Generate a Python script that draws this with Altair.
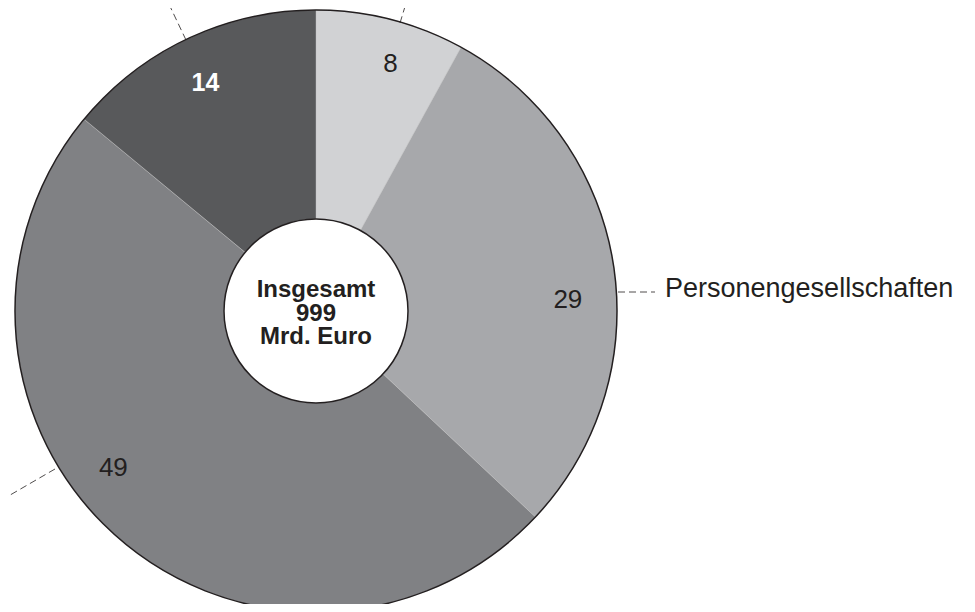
import math
import altair as alt
import pandas as pd

# ---- data ----
categories = ["Einzelunternehmen", "Personengesellschaften", "Kapitalgesellschaften", "Übrige"]
shares = [8, 29, 49, 14]
slice_colors = ["#d1d2d4", "#a7a8ab", "#808184", "#58595b"]
center_lines = ["Insgesamt", "999", "Mrd. Euro"]
side_labels = ["Einzelunternehmen", "Personengesellschaften"]

df = pd.DataFrame({"cat": categories, "value": shares, "idx": list(range(len(shares)))})

# ---- layout / style ----
CX, CY = 308, 303
R_OUT, R_IN = 301, 92
INK = "#231f20"
FONT = "Liberation Sans"
theta_scale = alt.Scale(domain=[0, sum(shares)], range=[0, 2 * math.pi])

stacked = (
    alt.Chart(df)
    .transform_stack(stack="value", groupby=[], as_=["v0", "v1"], sort=[alt.SortField("idx")])
    .transform_calculate(mid="(datum.v0 + datum.v1) / 2")
)

pie = stacked.mark_arc(outerRadius=R_OUT, innerRadius=R_IN, x=CX, y=CY,
                       stroke="#c8c8c8", strokeWidth=0.4).encode(
    theta=alt.Theta("v0:Q", scale=theta_scale),
    theta2="v1:Q",
    color=alt.Color("cat:N", scale=alt.Scale(domain=categories, range=slice_colors), legend=None),
)

one = alt.Data(values=[{}])

outer_ring = alt.Chart(one).mark_arc(
    outerRadius=R_OUT, innerRadius=0, x=CX, y=CY, fillOpacity=0, stroke=INK, strokeWidth=1.5
).encode(theta=alt.value(0), theta2=alt.value(2 * math.pi))

inner_disk = alt.Chart(one).mark_arc(
    outerRadius=R_IN, innerRadius=0, x=CX, y=CY, fill="white", stroke=INK, strokeWidth=1.5
).encode(theta=alt.value(0), theta2=alt.value(2 * math.pi))

# three centre lines, spaced 23.5 px apart, block centred near the hole's centre
center_text = [
    alt.Chart(one).mark_text(
        text=line, font=FONT, fontSize=24, fontWeight="bold",
        color=INK, align="center", baseline="middle"
    ).encode(x=alt.value(CX), y=alt.value(CY - 21 + k * 23.5))
    for k, line in enumerate(center_lines)
]

# per-slice label styling (offsets from slice mid-angle)
label_styles = [
    dict(dx=11, dy=0, color=INK, fontWeight="normal", fontSize=26),
    dict(dx=0, dy=29, color=INK, fontWeight="normal", fontSize=26),
    dict(dx=-34, dy=-34, color=INK, fontWeight="normal", fontSize=26),
    dict(dx=-2, dy=3, color="white", fontWeight="bold", fontSize=25),
]
labels = []
for i, st in enumerate(label_styles):
    labels.append(
        stacked.transform_filter(alt.datum.idx == i).mark_text(
            radius=255, x=CX, y=CY, font=FONT, align="center", baseline="middle", **st
        ).encode(theta=alt.Theta("mid:Q", scale=theta_scale), text=alt.Text("value:Q"))
    )


def leader(x1, y1, x2, y2):
    return alt.Chart(one).mark_rule(stroke=INK, strokeWidth=0.8, strokeDash=[7, 4]).encode(
        x=alt.value(x1), y=alt.value(y1), x2=alt.value(x2), y2=alt.value(y2)
    )


leaders = [
    leader(178, 32, 159, -8),
    leader(392, 15, 399, -8),
    leader(610, 284, 647, 284),
    leader(47, 461, -3, 490),
    leader(-3, 490, -20, 490),
]

side_text = [
    alt.Chart(one).mark_text(text=side_labels[0], font=FONT, fontSize=27, color=INK,
                             align="left", baseline="alphabetic").encode(
        x=alt.value(710), y=alt.value(-2)),
    alt.Chart(one).mark_text(text=side_labels[1], font=FONT, fontSize=27, color=INK,
                             align="left", baseline="alphabetic").encode(
        x=alt.value(657), y=alt.value(289)),
]

chart = alt.layer(pie, outer_ring, inner_disk, *center_text, *labels, *leaders, *side_text).properties(
    width=959, height=596, autosize=alt.AutoSizeParams(type="none"), padding=0, background="white"
).configure_view(stroke=None)

chart.save("out.html", embed_options={"renderer": "svg", "actions": False})
